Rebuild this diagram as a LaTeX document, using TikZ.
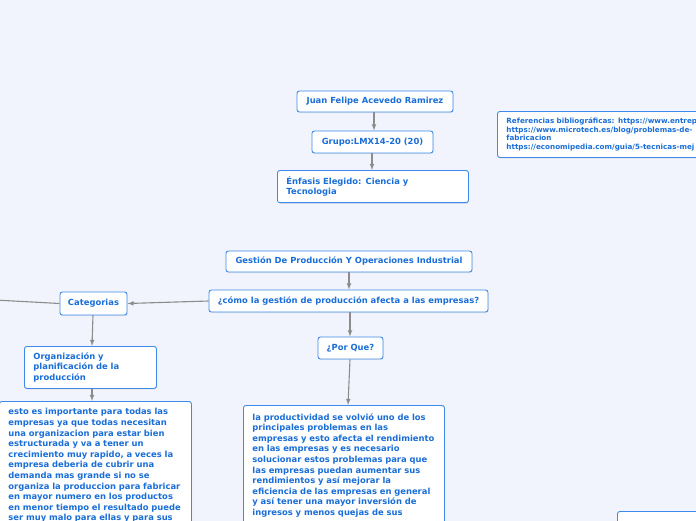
\documentclass[tikz,border=0pt]{standalone}
\usepackage{fontspec}
\setmainfont{DejaVu Sans}
\usetikzlibrary{shadows}

\definecolor{bgblue}{HTML}{F1F4FC}
\definecolor{boxblue}{HTML}{3D8AE8}
\definecolor{txtblue}{HTML}{1A6ED8}
\definecolor{linegray}{HTML}{8C8C8C}

\tikzset{
    topic/.style={draw=boxblue, fill=white, rounded corners=2.5pt, line width=0.9pt,
        text=txtblue, font=\bfseries\fontsize{8.4}{10.6}\selectfont, inner sep=0pt,
        drop shadow={opacity=0.12, shadow xshift=0.6pt, shadow yshift=-1.2pt}},
    textbox/.style={topic, align=left, anchor=north west, inner xsep=9pt, inner ysep=6pt},
    conn/.style={draw=linegray, line width=1.1pt}
}

\begin{document}
\begin{tikzpicture}[x=1pt,y=-1pt]
    \useasboundingbox (0,0) rectangle (696,520);
    \clip (0,0) rectangle (696,520);
    \fill[bgblue] (-10,-10) rectangle (706,530);

    % top group
    \node[topic, minimum width=156pt, minimum height=21pt] (name) at (375,101.5) {Juan Felipe Acevedo Ramirez};
    \node[topic, minimum width=121pt, minimum height=22pt] (group) at (372.5,142) {Grupo:LMX14-20 (20)};
    \node[textbox, text width=173pt, minimum height=32pt] (focus) at (277,170) {Énfasis Elegido: Ciencia y\\Tecnologia};
    \node[textbox, font=\bfseries\fontsize{7.2}{8.5}\selectfont, text width=300pt, minimum height=46pt, inner ysep=5pt] (refs) at (497,111)
        {Referencias bibliográficas: https://www.entrepr\\https://www.microtech.es/blog/problemas-de-\\fabricacion\\https://economipedia.com/guia/5-tecnicas-mej};

    % main branch
    \node[topic, minimum width=246pt, minimum height=21pt] (title) at (349,261.5) {Gestión De Producción Y Operaciones Industrial};
    \node[topic, minimum width=279pt, minimum height=22pt] (question) at (348.5,301) {¿cómo la gestión de producción afecta a las empresas?};
    \node[topic, minimum width=67pt, minimum height=23pt] (cat) at (93.5,303.5) {Categorias};
    \node[textbox, text width=114pt, minimum height=42pt, inner ysep=4pt] (org) at (24,346) {Organización y\\planificación de la\\producción};
    \node[textbox, text width=174pt, inner ysep=7pt] (orgtext) at (-1,401)
        {esto es importante para todas las\\empresas ya que todas necesitan\\una organizacion para estar bien\\estructurada y va a tener un\\crecimiento muy rapido, a veces la\\empresa deberia de cubrir una\\demanda mas grande si no se\\organiza la produccion para fabricar\\en mayor numero en los productos\\en menor tiempo el resultado puede\\ser muy malo para ellas y para sus\\\rule{0pt}{30pt}};
    \node[topic, minimum width=65pt, minimum height=22pt] (why) at (350.5,348) {¿Por Que?};
    \node[textbox, text width=183pt, inner ysep=8pt] (whytext) at (243,405)
        {la productividad se volvió uno de los\\principales problemas en las\\empresas y esto afecta el rendimiento\\en las empresas y es necesario\\solucionar estos problemas para que\\las empresas puedan aumentar sus\\rendimientos y así mejorar la\\eficiencia de las empresas en general\\y así tener una mayor inversión de\\ingresos y menos quejas de sus\\\rule{0pt}{30pt}};
    \node[topic, anchor=north west, minimum width=100pt, minimum height=30pt] (extra) at (617,511) {};
    \coordinate (leftend) at (-5,300);

    % connectors
    \draw[conn, ->, >=latex] (name.south -| 374,0) -- (group.north -| 374,0);
    \draw[conn, ->, >=latex] (group.south -| 372,0) -- (focus.north -| 372,0);
    \draw[conn, ->, >=latex] (title.south -| 349,0) -- (question.north -| 349,0);
    \draw[conn, ->, >=latex] (question.west) -- (cat.east);
    \draw[conn] (cat.west) -- (leftend);
    \draw[conn, ->, >=latex] (93,315) -- (org.north -| 92,0);
    \draw[conn, ->, >=latex] (org.south -| 92,0) -- (orgtext.north -| 92,0);
    \draw[conn, ->, >=latex] (question.south -| 350,0) -- (why.north -| 350,0);
    \draw[conn, ->, >=latex] (why.south -| 350,0) -- (whytext.north -| 348,0);

\end{tikzpicture}
\end{document}
